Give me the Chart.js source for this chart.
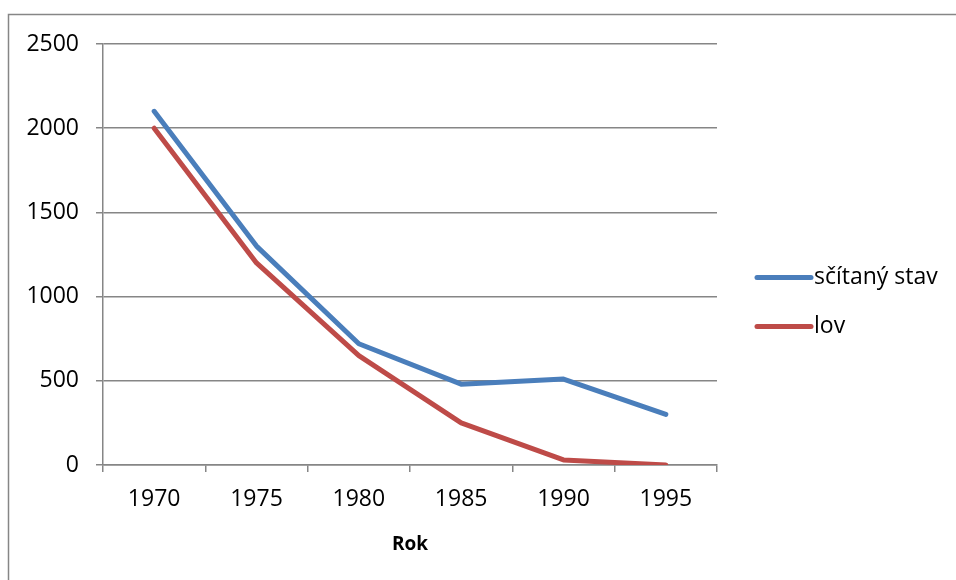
<!DOCTYPE html>
<html>
<head>
<meta charset="utf-8">
<script src="https://cdn.jsdelivr.net/npm/chart.js@4.4.1/dist/chart.umd.min.js"></script>
<style>
  body { margin: 0; background: #fff; overflow: hidden; }
</style>
</head>
<body>
<canvas id="myChart" width="956" height="580"></canvas>
<script>
/*---------------------------- data ------------------------------------*/
var years = ['1970', '1975', '1980', '1985', '1990', '1995'];
var scitanyStav = [2100, 1300, 720, 480, 510, 300];
var lov = [2000, 1200, 650, 250, 30, 0];
var yTicks = [0, 500, 1000, 1500, 2000, 2500];

var gridColor = '#868686';
var fontFamily = '"Open Sans", "Liberation Sans", sans-serif';

// outer frame + legend drawn by hand
var framePlugin = {
  id: 'frame',
  beforeDraw: function (chart) {
    var ctx = chart.ctx;
    ctx.save();
    ctx.strokeStyle = gridColor;
    ctx.lineWidth = 1.5;
    ctx.beginPath();
    ctx.moveTo(8.5, 580);
    ctx.lineTo(8.5, 14.5);
    ctx.lineTo(956, 14.5);
    ctx.stroke();
    ctx.restore();
  },
  afterDraw: function (chart) {
    var ctx = chart.ctx;
    var rows = [277.5, 326.5];
    ctx.save();
    chart.data.datasets.forEach(function (ds, i) {
      ctx.strokeStyle = ds.borderColor;
      ctx.lineWidth = 5;
      ctx.lineCap = 'round';
      ctx.beginPath();
      ctx.moveTo(757, rows[i]);
      ctx.lineTo(811, rows[i]);
      ctx.stroke();
      ctx.fillStyle = '#000';
      ctx.font = '23px ' + fontFamily;
      ctx.textBaseline = 'middle';
      ctx.fillText(ds.label, 814, rows[i]);
    });
    ctx.restore();
  }
};

new Chart('myChart', {
  type: 'line',
  data: {
    labels: years,
    datasets: [{
      label: 'sčítaný stav',
      data: scitanyStav,
      borderColor: '#4a7ebb',
      borderWidth: 5,
      pointRadius: 0,
      borderCapStyle: 'round',
      borderJoinStyle: 'round',
      tension: 0
    },
    {
      label: 'lov',
      data: lov,
      borderColor: '#be4b48',
      borderWidth: 5,
      pointRadius: 0,
      borderCapStyle: 'round',
      borderJoinStyle: 'round',
      tension: 0
    }]
  },
  options: {
    responsive: false,
    animation: false,
    layout: { padding: { top: 44, right: 239, bottom: 0, left: 0 } },
    plugins: {
      legend: { display: false },
      tooltip: { enabled: false }
    },
    scales: {
      x: {
        offset: true,
        grid: {
          offset: true,
          drawOnChartArea: false,
          drawTicks: true,
          tickLength: 7,
          color: gridColor,
          lineWidth: 1.5
        },
        border: { display: true, color: gridColor, width: 1.5 },
        ticks: {
          color: '#000',
          padding: 14,
          font: { family: fontFamily, size: 23 }
        },
        title: {
          display: true,
          text: 'Rok',
          color: '#000',
          font: { family: fontFamily, size: 19, weight: 'bold' },
          padding: { top: 4, bottom: 24 }
        },
        afterFit: function (scale) { scale.height = 115; }
      },
      y: {
        min: 0,
        max: 2500,
        afterBuildTicks: function (scale) {
          scale.ticks = yTicks.map(function (v) { return { value: v }; });
        },
        grid: {
          color: gridColor,
          lineWidth: 1.5,
          tickLength: 7
        },
        border: { display: true, color: gridColor, width: 1.5 },
        ticks: {
          color: '#000',
          padding: 17,
          font: { family: fontFamily, size: 23 },
          callback: function (value) { return String(value); }
        },
        afterFit: function (scale) { scale.width = 103; }
      }
    }
  },
  plugins: [framePlugin]
});
</script>
</body>
</html>
